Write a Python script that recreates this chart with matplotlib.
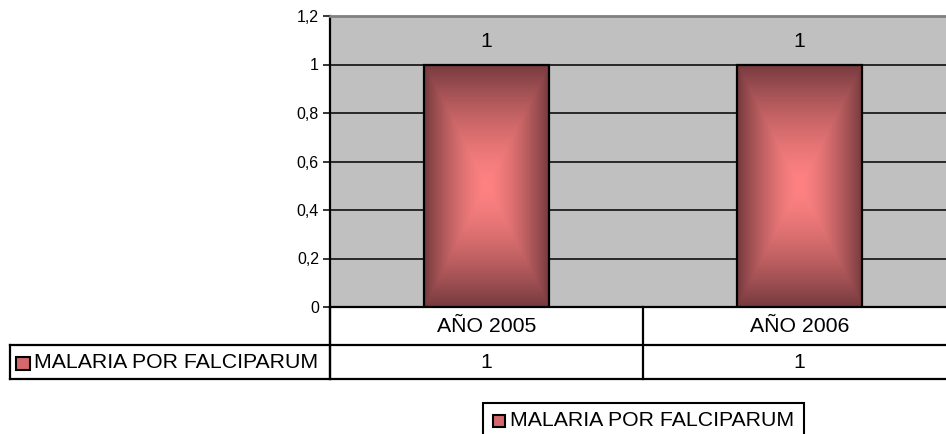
import numpy as np
import matplotlib
matplotlib.use('Agg')
import matplotlib.pyplot as plt
import matplotlib.transforms as mtransforms
from matplotlib.lines import Line2D
from matplotlib.patches import Rectangle

plt.rcParams['font.family'] = ['Liberation Sans', 'DejaVu Sans']

categories = ['AÑO 2005', 'AÑO 2006']
series_name = 'MALARIA POR FALCIPARUM'
values = [1, 1]
y_ticks = [0, 0.2, 0.4, 0.6, 0.8, 1, 1.2]

W, H = 946, 434
FS = 15.3


def fx(px):
    return px / W


def fy(py):
    return 1 - py / H


def gradient(nx=120, ny=240):
    # rectangular "from centre" gradient, bright pink centre -> dark maroon edge
    u = np.linspace(-1, 1, nx)
    v = np.linspace(-1, 1, ny)
    uu, vv = np.meshgrid(u, v)
    d = np.maximum(np.abs(uu), np.abs(vv))
    d = np.clip(d, 0, 1) ** 1.5
    c0 = np.array([255, 130, 130]) / 255.0
    c1 = np.array([118, 58, 62]) / 255.0
    return c0 + (c1 - c0) * d[..., None]


fig = plt.figure(figsize=(W / 100, H / 100), dpi=100)
ax = fig.add_axes([fx(330), fy(307), 626 / W, 291 / H])
ax.set_facecolor('#C0C0C0')

x = np.arange(len(categories))
bars = ax.bar(x, values, width=0.4, facecolor='none', edgecolor='black',
              linewidth=1.6, zorder=4)
grad = gradient()
for b in bars:
    im = ax.imshow(grad, extent=[b.get_x(), b.get_x() + b.get_width(), 0, b.get_height()],
                   aspect='auto', zorder=3, interpolation='bilinear')
    im.set_clip_path(b)

for i, v in enumerate(values):
    ax.annotate(str(v), (x[i], v), xytext=(0, 23), textcoords='offset pixels',
                ha='center', va='center', fontsize=FS)

ax.set_xlim(-0.5, len(categories) - 0.5)
ax.set_ylim(0, 1.2)
ax.set_yticks(y_ticks)
ax.set_yticklabels([f'{t:g}'.replace('.', ',') for t in y_ticks], fontsize=11.5)
ax.set_xticks([])
ax.yaxis.grid(True, color='black', linewidth=1.1)
ax.set_axisbelow(True)
ax.tick_params(axis='y', length=5, width=1.1, pad=3)
ax.spines['left'].set_linewidth(1.6)
ax.spines['bottom'].set_linewidth(1.6)
ax.spines['top'].set_color('#808080')
ax.spines['top'].set_linewidth(2)
ax.spines['right'].set_visible(False)

# data table under the chart
blend = mtransforms.blended_transform_factory(ax.transData, fig.transFigure)
lw = 1.6
for py in (345, 379):
    fig.add_artist(Line2D([fx(10), 1.0], [fy(py), fy(py)], color='black', lw=lw))
fig.add_artist(Line2D([fx(10), fx(10)], [fy(345), fy(379)], color='black', lw=lw))
fig.add_artist(Line2D([fx(330), fx(330)], [fy(307), fy(379)], color='black', lw=lw))
for b in np.arange(len(categories) + 1) - 0.5:
    ax.add_artist(Line2D([b, b], [fy(307), fy(379)], transform=blend, color='black',
                         lw=lw, clip_on=False))

for i, cat in enumerate(categories):
    ax.text(x[i], fy(326), cat, transform=blend, ha='center', va='center', fontsize=FS)
    ax.text(x[i], fy(362), str(values[i]), transform=blend, ha='center', va='center',
            fontsize=FS)

fig.add_artist(Rectangle((fx(16), fy(370)), 14 / W, 13 / H, transform=fig.transFigure,
                         facecolor='#D4686C', edgecolor='black', lw=1.5))
fig.text(fx(34), fy(362), series_name, ha='left', va='center', fontsize=FS)

# legend box (runs past the bottom edge)
fig.add_artist(Rectangle((fx(483), fy(445)), 321 / W, 42 / H, transform=fig.transFigure,
                         facecolor='white', edgecolor='black', lw=1.5))
fig.add_artist(Rectangle((fx(493), fy(427)), 12 / W, 12 / H, transform=fig.transFigure,
                         facecolor='#D4686C', edgecolor='black', lw=1.5))
fig.text(fx(510), fy(421), series_name, ha='left', va='center', fontsize=FS)

fig.savefig('out.png', dpi=100)
